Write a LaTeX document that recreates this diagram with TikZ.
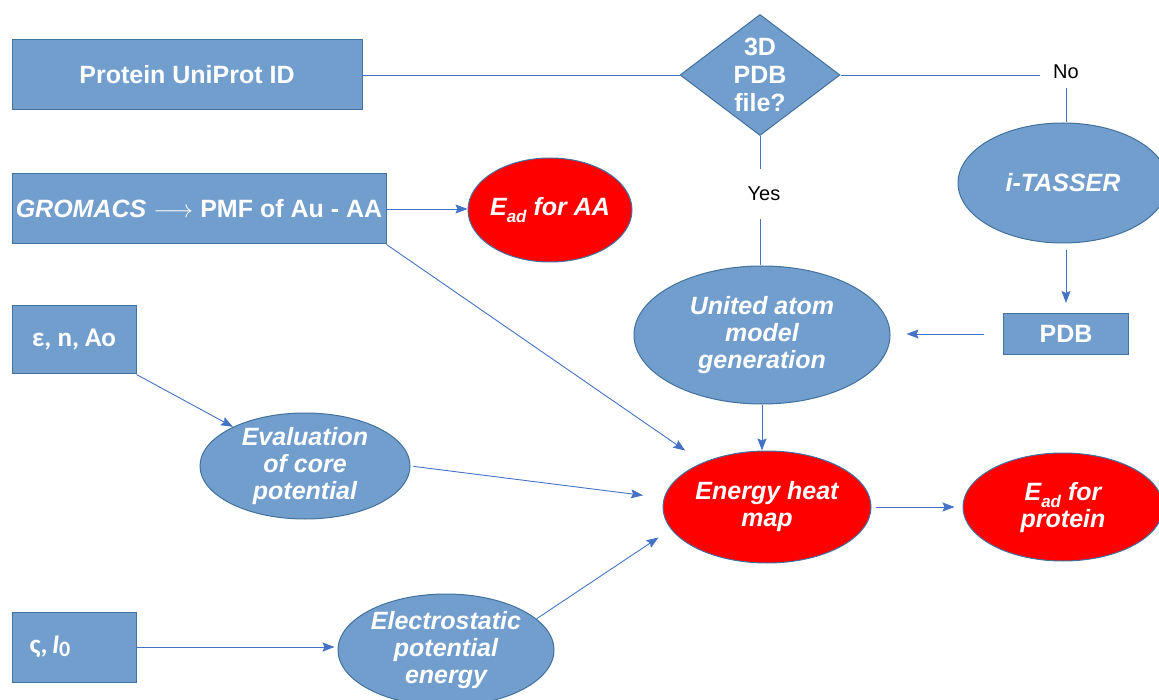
\documentclass[tikz,border=0pt]{standalone}
\usepackage{fontspec}
\setmainfont{Liberation Sans}
\newfontfamily\calfont{Carlito}
\usetikzlibrary{shapes.geometric,arrows.meta}
\definecolor{boxfill}{RGB}{114,158,206}
\definecolor{boxdraw}{RGB}{65,113,156}
\definecolor{arrcol}{RGB}{68,114,196}
\newcommand\mysub[1]{\raisebox{-0.28em}{\fontsize{17}{17}\selectfont #1}}
\begin{document}
\begin{tikzpicture}[x=1pt,y=-1pt,
 box/.style={rectangle,draw=boxdraw,fill=boxfill,line width=1pt,inner sep=0pt,text=white,font=\fontsize{25}{28}\selectfont\bfseries},
 oval/.style={ellipse,draw=boxdraw,fill=boxfill,line width=1pt,inner sep=0pt},
 redoval/.style={oval,fill=red},
 ovaltext/.style={text=white,align=center,inner sep=0pt,font=\fontsize{25}{27}\selectfont\bfseries\itshape},
 arr/.style={draw=arrcol,line width=0.9pt,-{Stealth[length=12pt,width=9pt,inset=2pt]}},
 conn/.style={draw=arrcol,line width=0.9pt},
 lbl/.style={inner sep=0pt,font=\fontsize{20}{24}\selectfont}]
\useasboundingbox (0,0) rectangle (1159,700);
% nodes
\node[box,minimum width=350pt,minimum height=70pt] (prot) at (187,75) {Protein UniProt ID};
\node[diamond,draw=boxdraw,fill=boxfill,line width=1pt,inner sep=0pt,minimum width=160pt,minimum height=121pt,
  label={[text=white,align=center,font=\fontsize{25}{28}\selectfont\bfseries]center:3D\\PDB\\file?}] (dia) at (760,75) {};
\node[box,minimum width=374pt,minimum height=70pt] (gro) at (199,209) {{\itshape GROMACS} $\longrightarrow$ PMF of Au - AA};
\node[redoval,minimum width=164pt,minimum height=104pt,label={[ovaltext]center:E\mysub{ad} for AA}] (eadaa) at (550,210) {};
\node[box,minimum width=124pt,minimum height=68pt,font=\calfont\bfseries\fontsize{27}{30}\selectfont] (eps) at (74,340) {ε, n, Ao};
\node[box,minimum width=124pt,minimum height=70pt,font=\calfont\bfseries\fontsize{27}{30}\selectfont] (sig) at (74,647) {ς,\,\textit{I}\raisebox{-0.12em}{\fontsize{22}{22}\selectfont 0}\hspace*{48pt}};
\node[oval,minimum width=210pt,minimum height=106pt,label={[ovaltext]center:Evaluation\\of core\\potential}] (eval) at (305,466) {};
\node[oval,minimum width=216pt,minimum height=112pt,label={[ovaltext]center:Electrostatic\\potential\\energy}] (elec) at (446,650) {};
\node[oval,minimum width=256pt,minimum height=138pt,label={[ovaltext]center:United atom\\model\\generation}] (ua) at (762,335) {};
\node[redoval,minimum width=208pt,minimum height=112pt,label={[ovaltext]center:Energy heat\\map}] (ehm) at (767,507) {};
\node[redoval,minimum width=200pt,minimum height=108pt,label={[ovaltext,yshift=-1pt]center:E\mysub{ad} for\\protein}] (prp) at (1063,507) {};
\node[oval,minimum width=210pt,minimum height=120pt,label={[ovaltext]center:i-TASSER}] (ita) at (1063,183) {};
\node[box,minimum width=125pt,minimum height=41pt] (pdb) at (1066,334) {PDB};
\node[lbl,minimum height=50pt] (yes) at (764,194) {Yes};
\node[lbl,minimum width=52pt,minimum height=32pt] (no) at (1066,72) {No};
% connectors
\draw[conn] (prot.east) -- (dia.west);
\draw[conn] (dia.east) -- (no.west |- dia.east);
\draw[conn] (no.south) -- (no.south |- ita.north);
\draw[arr,shorten <=7pt,shorten >=10pt] (pdb.north |- ita.south) -- (pdb.north);
\draw[arr,shorten <=19pt,shorten >=16pt] (pdb.west) -- (pdb.west -| ua.east);
\draw[conn] (dia.south) -- (dia.south |- yes.north);
\draw[conn] (dia.south |- yes.south) -- (dia.south |- ua.north);
\draw[arr] (ua.south) -- (ua.south |- ehm.north);
\draw[arr,shorten <=4pt,shorten >=8pt] (ehm.east) -- (prp.west);
\draw[arr] (gro.east) -- (gro.east -| eadaa.west);
\draw[arr,shorten >=21pt] (gro.south east) -- (ehm);
\draw[arr] (eps.south east) -- (eval);
\draw[arr,shorten <=3pt,shorten >=21pt] (eval.east) -- (ehm.175);
\draw[arr,shorten >=3pt] (sig.east) -- (sig.east -| elec.west);
\draw[arr,shorten >=15pt] (elec.19) -- (ehm.193);
\end{tikzpicture}
\end{document}
